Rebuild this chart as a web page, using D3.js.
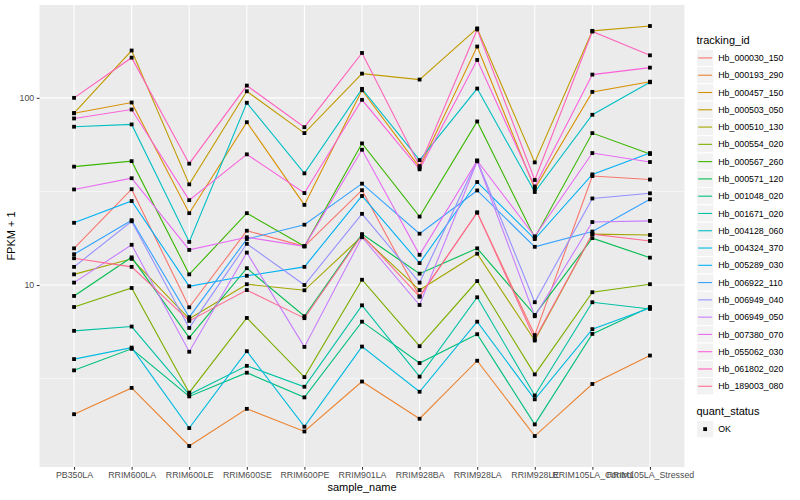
<!DOCTYPE html>
<html>
<head>
<meta charset="utf-8">
<script src="https://cdn.jsdelivr.net/npm/d3@7/dist/d3.min.js"></script>
<style>
  body { margin: 0; background: #fff; }
  text { font-family: "Liberation Sans", Arial, Helvetica, sans-serif; }
</style>
</head>
<body>
<svg id="chart" width="800" height="500"></svg>
<script>
// samples on the x axis
const samples = ['PB350LA', 'RRIM600LA', 'RRIM600LE', 'RRIM600SE', 'RRIM600PE', 'RRIM901LA',
  'RRIM928BA', 'RRIM928LA', 'RRIM928LE', 'RRIM105LA_Control', 'RRIM105LA_Stressed'];

const trackingIds = ['Hb_000030_150', 'Hb_000193_290', 'Hb_000457_150', 'Hb_000503_050', 'Hb_000510_130',
  'Hb_000554_020', 'Hb_000567_260', 'Hb_000571_120', 'Hb_001048_020', 'Hb_001671_020', 'Hb_004128_060',
  'Hb_004324_370', 'Hb_005289_030', 'Hb_006922_110', 'Hb_006949_040', 'Hb_006949_050', 'Hb_007380_070',
  'Hb_055062_030', 'Hb_061802_020', 'Hb_189003_080'];

// ggplot hue palette, 20 levels
const colors = ['#F8766D', '#EA8331', '#D89000', '#C09B00', '#A3A500', '#7CAE00', '#39B600', '#00BB4E',
  '#00BF7D', '#00C1A3', '#00BFC4', '#00BAE0', '#00B0F6', '#35A2FF', '#9590FF', '#C77CFF', '#E76BF3',
  '#FA62DB', '#FF62BC', '#FF6C91'];

// FPKM + 1, one value per sample
const hb_000030_150 = [15.7, 32.5, 7.6, 19.5, 16.1, 32.1, 8.7, 24.4, 5.4, 38.2, 36.6];
const hb_000193_290 = [2.04, 2.82, 1.38, 2.18, 1.65, 3.05, 1.93, 3.94, 1.56, 2.96, 4.2];
const hb_000457_150 = [82.8, 94.4, 24.2, 74.1, 26.8, 109.8, 42.5, 188, 32.7, 107.6, 122];
const hb_000503_050 = [82.8, 179, 34.5, 108.4, 64.8, 134.7, 125.2, 235, 45.2, 228, 242];
const hb_000510_130 = [11.4, 13.8, 6.6, 10.1, 9.37, 18.2, 9.4, 14.7, 5.05, 18.7, 18.5];
const hb_000554_020 = [7.63, 9.64, 2.66, 6.67, 3.22, 10.67, 4.71, 10.5, 3.33, 9.15, 10.1];
const hb_000567_260 = [42.9, 45.9, 11.4, 24.2, 16.1, 57.1, 23.2, 74.8, 17.9, 64.8, 50.1];
const hb_000571_120 = [8.74, 14.05, 5.24, 12.3, 6.81, 18.7, 11.5, 15.7, 6.92, 17.8, 14.0];
const hb_001048_020 = [3.5, 4.56, 2.54, 3.4, 2.51, 6.37, 3.83, 5.46, 1.8, 5.48, 7.63];
const hb_001671_020 = [5.69, 6.0, 2.6, 3.7, 2.86, 7.79, 3.24, 8.6, 2.57, 8.09, 7.45];
const hb_004128_060 = [70.1, 72.1, 17.0, 94.1, 39.5, 111.7, 46.5, 112.1, 31.4, 81.2, 121.1];
const hb_004324_370 = [4.02, 4.63, 1.72, 4.43, 1.75, 4.69, 2.69, 6.37, 2.45, 5.81, 7.54];
const hb_005289_030 = [21.5, 28.1, 9.84, 11.2, 12.5, 29.9, 13.1, 35.5, 17.6, 39.0, 50.7];
const hb_006922_110 = [14.6, 22.2, 6.73, 17.6, 21.0, 34.8, 18.8, 32.0, 16.0, 19.3, 28.7];
const hb_006949_040 = [12.5, 21.9, 5.9, 16.6, 10.0, 24.0, 10.3, 46.3, 8.09, 29.0, 30.9];
const hb_006949_050 = [10.3, 16.4, 4.4, 14.9, 4.67, 18.0, 7.82, 45.8, 6.81, 21.7, 22.0];
const hb_007380_070 = [32.4, 37.2, 15.4, 18.0, 16.1, 52.8, 14.5, 46.1, 18.2, 50.7, 45.4];
const hb_055062_030 = [77.6, 86.6, 28.4, 49.9, 31.0, 97.6, 41.5, 159.4, 33.6, 133.1, 145.0];
const hb_061802_020 = [100, 163.9, 44.5, 116.3, 69.7, 173.7, 43.2, 232, 36.4, 226, 168.7];
const hb_189003_080 = [13.9, 12.5, 6.43, 9.4, 6.65, 18.5, 8.66, 24.4, 5.15, 18.7, 17.2];

const seriesValues = [hb_000030_150, hb_000193_290, hb_000457_150, hb_000503_050, hb_000510_130,
  hb_000554_020, hb_000567_260, hb_000571_120, hb_001048_020, hb_001671_020, hb_004128_060,
  hb_004324_370, hb_005289_030, hb_006922_110, hb_006949_040, hb_006949_050, hb_007380_070,
  hb_055062_030, hb_061802_020, hb_189003_080];

const yMajor = [10, 100];

const svg = d3.select('#chart');

// panel box
const panel = { left: 39.5, right: 684.5, top: 5, bottom: 467 };

const series = trackingIds.map((id, i) => ({
  id,
  color: colors[i],
  values: samples.map((s, j) => ({ sample: s, value: seriesValues[i][j] }))
}));

// x: discrete, ggplot expands by 0.6 of a step on each side
const xScale = d3.scalePoint()
  .domain(samples)
  .range([panel.left, panel.right])
  .padding(0.6);

// y: log10 with 5% expansion on the transformed range
const allVals = seriesValues.flat();
const lo = Math.log10(d3.min(allVals));
const hi = Math.log10(d3.max(allVals));
const pad = (hi - lo) * 0.05;
const yScale = d3.scaleLog()
  .domain([Math.pow(10, lo - pad), Math.pow(10, hi + pad)])
  .range([panel.bottom, panel.top]);

// minor breaks sit half way between majors in log space
const yMinor = [0.5, 1.5, 2.5].map(e => Math.pow(10, e))
  .filter(v => v > yScale.domain()[0] && v < yScale.domain()[1]);

// panel background + grid
svg.append('rect')
  .attr('x', panel.left).attr('y', panel.top)
  .attr('width', panel.right - panel.left).attr('height', panel.bottom - panel.top)
  .attr('fill', '#EBEBEB');

svg.selectAll('.minor-y')
  .data(yMinor)
  .enter().append('line')
  .attr('x1', panel.left).attr('x2', panel.right)
  .attr('y1', d => yScale(d)).attr('y2', d => yScale(d))
  .attr('stroke', '#fff').attr('stroke-width', 0.55);

svg.selectAll('.major-y')
  .data(yMajor)
  .enter().append('line')
  .attr('x1', panel.left).attr('x2', panel.right)
  .attr('y1', d => yScale(d)).attr('y2', d => yScale(d))
  .attr('stroke', '#fff').attr('stroke-width', 1.1);

svg.selectAll('.major-x')
  .data(samples)
  .enter().append('line')
  .attr('x1', d => xScale(d)).attr('x2', d => xScale(d))
  .attr('y1', panel.top).attr('y2', panel.bottom)
  .attr('stroke', '#fff').attr('stroke-width', 1.1);

// lines
const line = d3.line()
  .x(d => xScale(d.sample))
  .y(d => yScale(d.value));

svg.selectAll('.series')
  .data(series)
  .enter().append('path')
  .attr('d', d => line(d.values))
  .attr('fill', 'none')
  .attr('stroke', d => d.color)
  .attr('stroke-width', 1.1);

// points (quant_status = OK, filled squares)
const pts = series.flatMap(d => d.values);
svg.selectAll('.pt')
  .data(pts)
  .enter().append('rect')
  .attr('x', d => xScale(d.sample) - 1.9)
  .attr('y', d => yScale(d.value) - 1.9)
  .attr('width', 3.8).attr('height', 3.8)
  .attr('fill', '#000');

// axes
const xAxis = d3.axisBottom(xScale).tickSize(2.75).tickPadding(2.5);
const yAxis = d3.axisLeft(yScale).tickValues(yMajor).tickFormat(d3.format('d')).tickSize(2.75).tickPadding(2.5);

const gx = svg.append('g')
  .attr('transform', `translate(0,${panel.bottom})`)
  .call(xAxis);
const gy = svg.append('g')
  .attr('transform', `translate(${panel.left},0)`)
  .call(yAxis);

[gx, gy].forEach(g => {
  g.select('.domain').remove();
  g.selectAll('line').attr('stroke', '#333333').attr('stroke-width', 1.05);
  g.selectAll('text').attr('fill', '#4D4D4D').style('font-size', '8.8px')
    .style('font-family', '"Liberation Sans", Arial, sans-serif');
});

// axis titles
svg.append('text')
  .attr('x', (panel.left + panel.right) / 2).attr('y', 491)
  .attr('text-anchor', 'middle')
  .style('font-size', '11px')
  .text('sample_name');

svg.append('text')
  .attr('transform', `translate(15,${(panel.top + panel.bottom) / 2}) rotate(-90)`)
  .attr('text-anchor', 'middle')
  .style('font-size', '11px')
  .text('FPKM + 1');

// legend: tracking_id
const legX = 696.5, keySize = 17.28, legTop = 49.3;

svg.append('text')
  .attr('x', legX).attr('y', 43.5)
  .style('font-size', '11px')
  .text('tracking_id');

const leg = svg.selectAll('.leg')
  .data(series)
  .enter().append('g')
  .attr('transform', (d, i) => `translate(${legX},${legTop + i * keySize})`);

leg.append('rect')
  .attr('width', keySize).attr('height', keySize)
  .attr('fill', '#F2F2F2').attr('stroke', '#fff').attr('stroke-width', 1);

leg.append('line')
  .attr('x1', 1.7).attr('x2', keySize - 1.7)
  .attr('y1', keySize / 2).attr('y2', keySize / 2)
  .attr('stroke', d => d.color).attr('stroke-width', 1.1);

leg.append('text')
  .attr('x', keySize + 4.5).attr('y', keySize / 2 + 3.1)
  .style('font-size', '8.8px')
  .text(d => d.id);

// legend: quant_status
const qTop = 420.5;
svg.append('text')
  .attr('x', legX).attr('y', 415)
  .style('font-size', '11px')
  .text('quant_status');

svg.append('rect')
  .attr('x', legX).attr('y', qTop)
  .attr('width', keySize).attr('height', keySize)
  .attr('fill', '#F2F2F2').attr('stroke', '#fff');

svg.append('rect')
  .attr('x', legX + keySize / 2 - 1.9).attr('y', qTop + keySize / 2 - 1.9)
  .attr('width', 3.8).attr('height', 3.8)
  .attr('fill', '#000');

svg.append('text')
  .attr('x', legX + keySize + 4.5).attr('y', qTop + keySize / 2 + 3.1)
  .style('font-size', '8.8px')
  .text('OK');
</script>
</body>
</html>
